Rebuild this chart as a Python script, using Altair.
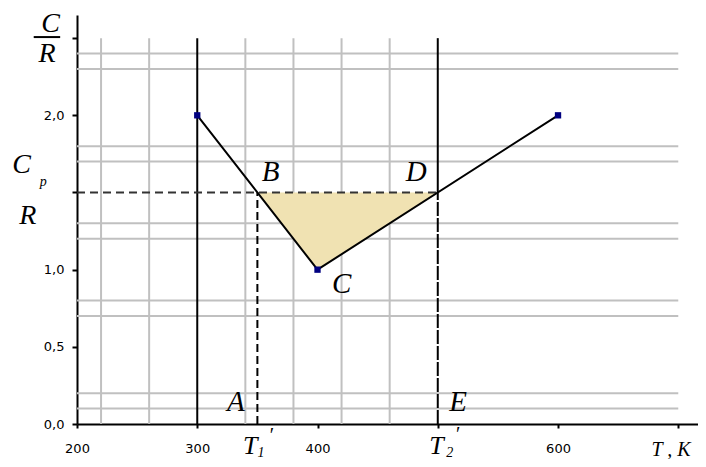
import altair as alt
import pandas as pd

# ---- data ----
curve_T = [300, 400, 600]
curve_C = [2.0, 1.0, 2.0]
fill_T = [350, 400, 500]
fill_lo = [1.5, 1.0, 1.5]
fill_hi = [1.5, 1.5, 1.5]
hgrid = [0.1, 0.2, 0.7, 0.8, 1.2, 1.3, 1.7, 1.8, 2.3, 2.4]
vgrid = [220, 260, 340, 380, 420, 460]
solid_T = [300, 500]
T1 = 350
T2 = 500
Cp = 1.5
x_ticks = [200, 300, 400, 500, 600, 700]
y_ticks = [0.0, 0.5, 1.0, 1.5, 2.0, 2.5]

# annotation letters (data coordinates)
pt_labels = ["B", "D", "C", "A", "E"]
pt_T = [361, 482, 420, 332, 517]
pt_C = [1.63, 1.63, 0.91, 0.14, 0.14]

xs = alt.Scale(domain=[200, 716.4], nice=False, zero=False)
ys = alt.Scale(domain=[0, 2.65], nice=False, zero=False)

x_axis = alt.Axis(values=x_ticks, title=None, grid=False, labelFlush=False,
                  labelExpr="datum.value == 500 || datum.value == 700 ? '' : datum.value",
                  tickSize=4, labelPadding=14)
y_axis = alt.Axis(values=y_ticks, title=None, grid=False, labelFlush=False,
                  labelExpr="datum.value == 1.5 || datum.value == 2.5 ? '' : replace(format(datum.value, '.1f'), '.', ',')",
                  tickSize=5, labelPadding=8)


def X(f):
    return alt.X(f, type="quantitative", scale=xs, axis=x_axis)


def Y(f):
    return alt.Y(f, type="quantitative", scale=ys, axis=y_axis)


vg = pd.DataFrame({"T": vgrid, "lo": 0.0, "hi": 2.5})
hg = pd.DataFrame({"C": hgrid, "a": 200, "b": 700})
sv = pd.DataFrame({"T": solid_T, "lo": [0.0, Cp], "hi": 2.5})
curve = pd.DataFrame({"T": curve_T, "C": curve_C})
fill = pd.DataFrame({"T": fill_T, "lo": fill_lo, "hi": fill_hi})

grid_v = alt.Chart(vg).mark_rule(color="#c0c0c0", strokeWidth=2).encode(
    x=X("T"), y=Y("lo"), y2="hi")
grid_h = alt.Chart(hg).mark_rule(color="#c0c0c0", strokeWidth=2).encode(
    y=Y("C"), x=X("a"), x2="b")
area = alt.Chart(fill).mark_area(color="#f0e2b2", opacity=1).encode(
    x=X("T"), y=Y("lo"), y2="hi")
solid = alt.Chart(sv).mark_rule(color="black", strokeWidth=2).encode(
    x=X("T"), y=Y("lo"), y2="hi")
dash_h = alt.Chart(pd.DataFrame({"C": [Cp], "a": [200], "b": [T2]})).mark_rule(
    color="#333333", strokeWidth=2, strokeDash=[8, 5]).encode(y=Y("C"), x=X("a"), x2="b")
dash_v1 = alt.Chart(pd.DataFrame({"T": [T1], "lo": [0.0], "hi": [Cp]})).mark_rule(
    color="black", strokeWidth=2, strokeDash=[8, 4]).encode(x=X("T"), y=Y("lo"), y2="hi")
dash_v2 = alt.Chart(pd.DataFrame({"T": [T2], "lo": [0.0], "hi": [Cp]})).mark_rule(
    color="black", strokeWidth=2, strokeDash=[14, 2]).encode(x=X("T"), y=Y("lo"), y2="hi")
line = alt.Chart(curve).mark_line(color="black", strokeWidth=2).encode(x=X("T"), y=Y("C"))
pts = alt.Chart(curve).mark_square(color="#000080", size=40, opacity=1).encode(x=X("T"), y=Y("C"))

serif = dict(font="Liberation Serif", fontStyle="italic", color="black")
letters = alt.Chart(pd.DataFrame({"t": pt_labels, "T": pt_T, "C": pt_C})).mark_text(
    fontSize=29, **serif).encode(x=X("T"), y=Y("C"), text="t:N")

# axis-side labels
side = pd.DataFrame({
    "t": ["C", "R", "C", "R", "T", "T", "T , K"],
    "T": [178, 175, 154, 159, 344, 499, 694],
    "C": [2.59, 2.40, 1.68, 1.35, -0.145, -0.145, -0.17],
    "s": [28, 28, 28, 28, 26, 26, 20],
})
side_txt = alt.Chart(side).mark_text(**serif).encode(
    x=X("T"), y=Y("C"), text="t:N", size=alt.Size("s:Q", scale=None, legend=None))
small = pd.DataFrame({
    "t": ["p", "1", "′", "2", "′"],
    "T": [172, 353, 361, 510, 516],
    "C": [1.57, -0.19, -0.08, -0.19, -0.07],
    "s": [14, 14, 20, 14, 20],
})
small_txt = alt.Chart(small).mark_text(**serif).encode(
    x=X("T"), y=Y("C"), text="t:N", size=alt.Size("s:Q", scale=None, legend=None))
bar = alt.Chart(pd.DataFrame({"C": [2.507], "a": [164], "b": [186]})).mark_rule(
    color="black", strokeWidth=2).encode(y=Y("C"), x=X("a"), x2="b")

chart = alt.layer(
    grid_v, grid_h, area, solid, dash_h, dash_v1, dash_v2, line, pts,
    letters, side_txt, small_txt, bar
).properties(
    width=621, height=409,
    padding={"left": 69, "top": 7, "right": 0, "bottom": 35},
    autosize=alt.AutoSizeParams(type="none"),
    background="white",
).configure_view(stroke=None).configure_axis(
    domainColor="black", domainWidth=2, tickColor="black", tickWidth=2,
    labelFont="DejaVu Sans", labelFontSize=13, labelColor="black",
)

chart.save("out.html", embed_options={"renderer": "svg", "actions": False})
